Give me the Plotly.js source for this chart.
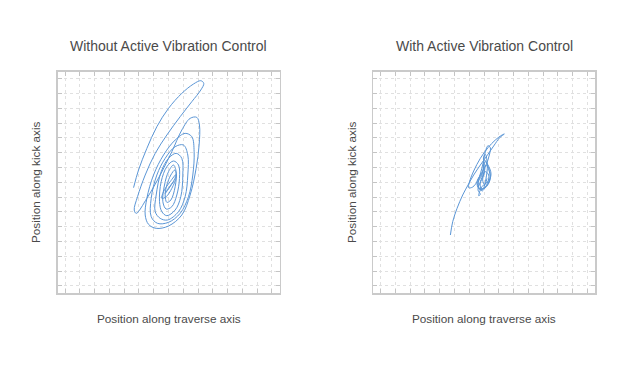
<!DOCTYPE html>
<html>
<head>
<meta charset="utf-8">
<script src="https://cdn.plot.ly/plotly-3.0.1.min.js"></script>
<style>html,body{margin:0;padding:0;background:#fff;}#chart{width:625px;height:365px;}</style>
</head>
<body>
<div id="chart"></div>
<script>
// Titles
const panelTitles = ["Without Active Vibration Control", "With Active Vibration Control"];
const xAxisLabel = "Position along traverse axis";
const yAxisLabel = "Position along kick axis";

// Trajectory without control (arbitrary position units)
const withoutX = [-105,-90,-65,-35,0,40,75,97,106,97,70,35,-5,-40,-70,-93,-103,-97,
  -65,-25,10,40,65,85,93,92,83,65,40,0,-37,-60,-70,
  -65,-45,-15,20,50,70,77,73,60,35,0,-33,-52,
  -52,-35,-10,20,45,58,58,50,30,-3,-25,-40,
  -37,-22,0,23,40,43,37,20,-5,-20,-27,
  -22,-5,15,30,33,25,10,-7,-17,
  -12,0,15,23,20,7,-5,-10,
  -5,7,19,23,10,-7,-20,-15,5,23,17,0,-10,3,15];
const withoutY = [-16,37,102,167,222,267,295,305,297,277,242,197,142,87,22,-43,-83,-93,
  -48,22,92,157,192,195,172,112,42,-38,-98,-131,-138,-126,-98,
  -48,22,82,127,147,137,92,22,-43,-93,-120,-123,-103,
  -48,22,72,107,112,82,22,-43,-88,-113,-108,-88,
  -38,32,72,87,72,22,-43,-83,-100,-88,-58,
  2,47,64,52,12,-38,-73,-80,-58,
  -8,32,52,32,-13,-53,-60,-38,
  -8,22,37,17,-18,-43,-48,-28,2,24,7,-20,-33,-13,2];

// Trajectory with control
const withX = [-101,-94,-81,-64,-48,-31,-11,9,29,47,61,54,34,12,-11,-31,-44,-46,-34,-18,-4,4,12,19,16,6,-11,-21,-16,-4,6,10,4,-1,0,-11,-18,-11,-16,
  -6,16,21,12,4,-6,-19,-11,9,19,14,2,-4,-16,-14,4,18,16,6,-1,-11,-6,10,14,4,-4,2,9];
const withY = [-158,-118,-78,-38,-8,22,52,80,109,134,145,142,127,104,72,34,0,-16,-14,7,52,92,110,104,82,52,22,2,-18,-20,12,52,84,77,32,2,-23,-36,-40,
  -13,7,27,52,62,22,-3,-23,-8,17,42,67,32,7,-18,-16,7,32,52,22,-3,-26,-3,22,32,7,-8,12];

const lineColor = "#5b96d6";

const axisCommon = {
  range: [-333.5, 333.5], tick0: 0, dtick: 44.4, showticklabels: false,
  ticks: "inside", ticklen: 4, tickwidth: 1, tickcolor: "#c4c4c4",
  showline: true, linecolor: "#cacaca", linewidth: 1.5, mirror: "ticks",
  showgrid: true, gridcolor: "#e0e0e0", gridwidth: 1, griddash: "dot",
  zeroline: false, fixedrange: true
};
const yCommon = Object.assign({}, axisCommon, {range: [-332, 332]});

const traces = [
  {x: withoutX, y: withoutY, xaxis: "x", yaxis: "y", type: "scatter", mode: "lines",
   line: {color: lineColor, width: 1, shape: "spline", smoothing: 1}, hoverinfo: "skip"},
  {x: withX, y: withY, xaxis: "x2", yaxis: "y2", type: "scatter", mode: "lines",
   line: {color: lineColor, width: 1, shape: "spline", smoothing: 1}, hoverinfo: "skip"}
];

const yDom = [(365-293)/365, (365-71.7)/365];
const font = "'Liberation Sans', Arial, sans-serif";
const txt = "#4a4a4a";
const layout = {
  width: 625, height: 365, showlegend: false,
  margin: {l: 0, r: 0, t: 0, b: 0},
  paper_bgcolor: "#fff", plot_bgcolor: "#fff",
  font: {family: font, color: txt},
  xaxis: Object.assign({}, axisCommon, {domain: [57.5/625, 279.5/625], anchor: "y"}),
  yaxis: Object.assign({}, yCommon, {domain: yDom, anchor: "x"}),
  xaxis2: Object.assign({}, axisCommon, {domain: [373/625, 595/625], anchor: "y2"}),
  yaxis2: Object.assign({}, yCommon, {domain: yDom, anchor: "x2"}),
  annotations: [
    {text: panelTitles[0], xref: "paper", yref: "paper", x: 168.5/625, y: (365-46)/365, xanchor: "center", yanchor: "middle", showarrow: false, font: {size: 14, color: txt, family: font}},
    {text: panelTitles[1], xref: "paper", yref: "paper", x: 484/625, y: (365-46)/365, xanchor: "center", yanchor: "middle", showarrow: false, font: {size: 14, color: txt, family: font}},
    {text: xAxisLabel, xref: "paper", yref: "paper", x: 168.5/625, y: (365-318)/365, xanchor: "center", yanchor: "middle", showarrow: false, font: {size: 11.75, color: txt, family: font}},
    {text: xAxisLabel, xref: "paper", yref: "paper", x: 484/625, y: (365-318)/365, xanchor: "center", yanchor: "middle", showarrow: false, font: {size: 11.75, color: txt, family: font}},
    {text: yAxisLabel, xref: "paper", yref: "paper", x: 36/625, y: (365-182)/365, xanchor: "center", yanchor: "middle", textangle: -90, showarrow: false, font: {size: 11.75, color: txt, family: font}},
    {text: yAxisLabel, xref: "paper", yref: "paper", x: 352/625, y: (365-182)/365, xanchor: "center", yanchor: "middle", textangle: -90, showarrow: false, font: {size: 11.75, color: txt, family: font}}
  ]
};

Plotly.newPlot("chart", traces, layout, {staticPlot: true, displayModeBar: false});
</script>
</body>
</html>
